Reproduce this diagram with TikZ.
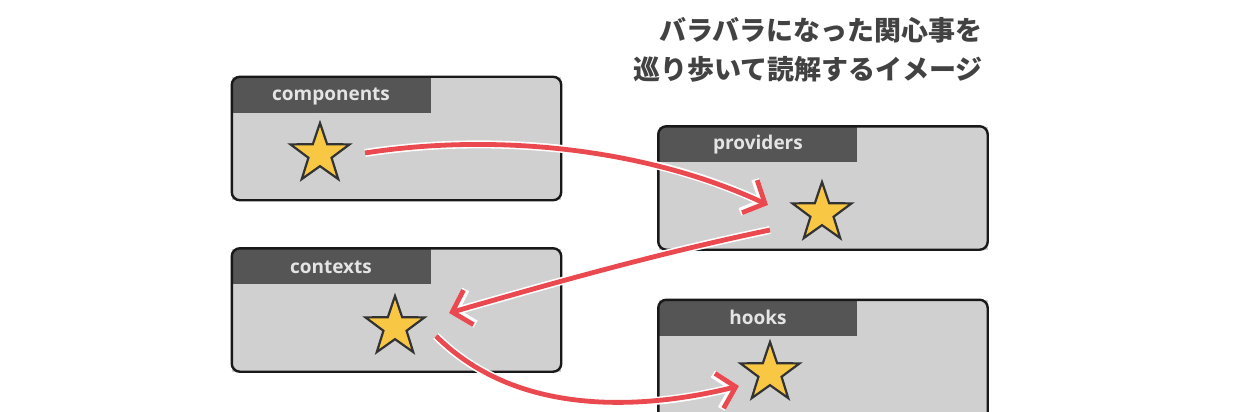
\documentclass[tikz,border=0pt]{standalone}
\usepackage{fontspec}
\newfontfamily\cjk{Noto Sans CJK JP}
\newfontfamily\lab{Open Sans}
\usetikzlibrary{shapes.geometric,arrows.meta}
\definecolor{boxfill}{HTML}{D0D0D0}
\definecolor{headfill}{HTML}{555555}
\definecolor{headtext}{HTML}{E4E4E4}
\definecolor{arrred}{HTML}{E9494F}
\definecolor{starfill}{HTML}{F8C744}
\definecolor{titlecol}{HTML}{424242}
\tikzset{
  panel/.style={rectangle, fill=boxfill, minimum width=329pt, minimum height=123pt, inner sep=0pt},
  border/.style={draw=black!90, line width=2.4pt, rounded corners=8pt},
  headlabel/.style={text=headtext, font=\lab\bfseries\fontsize{19}{19}\selectfont, inner sep=0pt},
  starnode/.style={star, star points=5, star point ratio=2.55, minimum size=62pt, inner sep=0pt,
    fill=starfill, draw=black!80, line width=2.2pt, line join=miter},
  outerline/.style={draw=white, line width=8pt, -{Straight Barb[length=17pt,width=36pt]}},
  innerline/.style={draw=arrred, line width=4.8pt, -{Straight Barb[length=17pt,width=36pt]}},
  titletext/.style={text=titlecol, font=\cjk\bfseries\fontsize{27}{27}\selectfont, inner sep=0pt, anchor=base east}
}
\newcommand{\panelhead}[1]{%
  \begin{scope}
    \clip[rounded corners=8pt] (#1.north west) rectangle (#1.south east);
    \fill[headfill] (#1.north west) rectangle ++(199,36);
  \end{scope}}
\begin{document}
\begin{tikzpicture}[x=1pt,y=-1pt]
\useasboundingbox (0,0) rectangle (1237,412);
\fill[white] (0,0) rectangle (1237,412);

% title
\node[titletext] (t1) at (983,41) {バラバラになった関心事を};
\node[titletext] (t2) at (983,79) {巡り歩いて読解するイメージ};

% panels
\node[panel] (comp) at (396.5,138.5) {};
\node[panel] (prov) at (823,188) {};
\node[panel] (ctx) at (396.5,310) {};
\node[panel, minimum height=130pt] (hook) at (823,365) {};

\panelhead{comp}
\panelhead{prov}
\panelhead{ctx}
\panelhead{hook}

\draw[border] (comp.north west) rectangle (comp.south east);
\draw[border] (prov.north west) rectangle (prov.south east);
\draw[border] (ctx.north west) rectangle (ctx.south east);
\draw[border] (hook.north west) rectangle (hook.south east);

\node[headlabel] (lcomp) at (331,96) {components};
\node[headlabel] (lprov) at (758,145) {providers};
\node[headlabel] (lctx) at (331,267) {contexts};
\node[headlabel] (lhook) at (758,317) {hooks};

% stars
\node[starnode] (s1) at (320,154) {};
\node[starnode] (s2) at (822,213) {};
\node[starnode] (s3) at (395,327) {};
\node[starnode] (s4) at (770,373) {};

% arrow endpoints
\coordinate (a1s) at (365,153);
\coordinate (a1e) at (768,205);
\coordinate (a2s) at (770,230);
\coordinate (a2e) at (449,313);
\coordinate (a3s) at (436,336);
\coordinate (a3e) at (739,386);

\draw[outerline] (a1s) .. controls (500,132) and (650,150) .. (a1e);
\draw[innerline] (a1s) .. controls (500,132) and (650,150) .. (a1e);
\draw[outerline] (a2s) .. controls (660,253) and (560,281) .. (a2e);
\draw[innerline] (a2s) .. controls (660,253) and (560,281) .. (a2e);
\draw[outerline] (a3s) .. controls (520,420) and (650,408) .. (a3e);
\draw[innerline] (a3s) .. controls (520,420) and (650,408) .. (a3e);
\end{tikzpicture}
\end{document}
